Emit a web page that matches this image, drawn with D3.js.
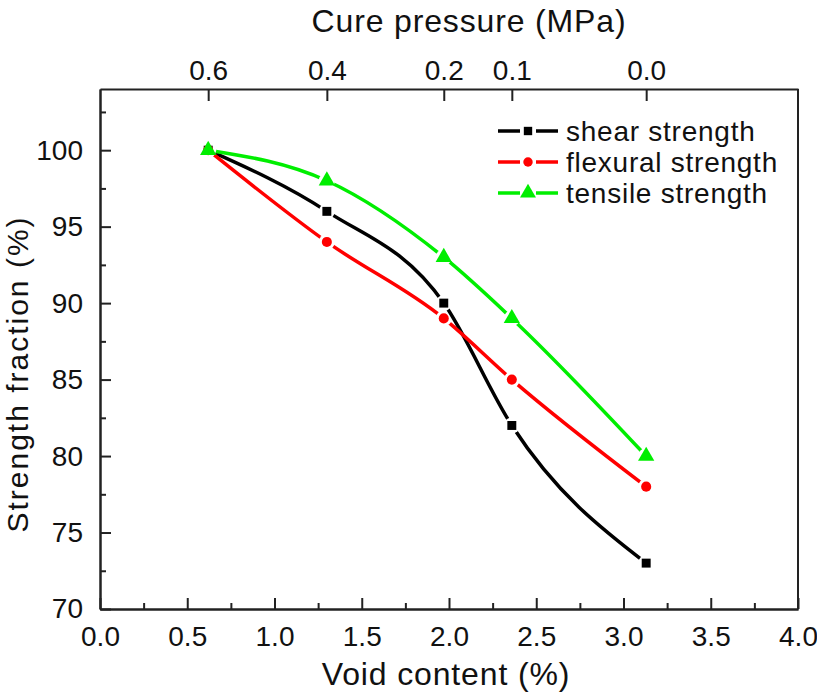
<!DOCTYPE html>
<html>
<head>
  <meta charset="utf-8">
  <title>Strength fraction vs void content</title>
  <style>
    body { margin: 0; background: white; }
    svg { display: block; font-family: "Liberation Sans", Arial, sans-serif; }
    .axis path, .axis line { stroke: #222; stroke-width: 2px; }
    .axis text { font-size: 28px; fill: #111; }
    .title { font-size: 32px; fill: #111; letter-spacing: 0.85px; }
    .legend text { font-size: 28px; fill: #111; letter-spacing: 0.75px; }
  </style>
</head>
<body>
  <div id="chart"></div>

  <script src="https://d3js.org/d3.v7.min.js"></script>
  <script>
    // data
    const voidContent = [0.62, 1.30, 1.97, 2.36, 3.13];
    const pressureLabels = ["0.6", "0.4", "0.2", "0.1", "0.0"];
    const shearStrength = [100, 96, 90, 82, 73];
    const flexuralStrength = [100, 94, 89, 85, 78];
    const tensileStrength = [100, 98, 93, 89, 80];

    const seriesNames = ["shear strength", "flexural strength", "tensile strength"];
    const seriesColors = ["#000000", "#ff0000", "#00ee00"];
    const seriesSymbols = [d3.symbolSquare, d3.symbolCircle, d3.symbolTriangle];
    const seriesValues = [shearStrength, flexuralStrength, tensileStrength];

    const width = 817, height = 696;
    const plotLeft = 100, plotRight = 798, plotTop = 89, plotBottom = 609;

    const svg = d3.select("#chart")
      .append("svg")
      .attr("width", width)
      .attr("height", height);

    const xScale = d3.scaleLinear().domain([0, 4]).range([plotLeft, plotRight]);
    const yScale = d3.scaleLinear().domain([70, 104]).range([plotBottom, plotTop]);

    // bottom axis, ticks pointing inward
    svg.append("g")
      .attr("class", "axis")
      .attr("transform", "translate(0," + plotBottom + ")")
      .call(d3.axisBottom(xScale).tickValues(d3.range(0, 4.01, 0.5))
        .tickFormat(d3.format(".1f")).tickSize(-11).tickSizeOuter(0).tickPadding(17));
    svg.append("g")
      .attr("class", "axis")
      .attr("transform", "translate(0," + plotBottom + ")")
      .call(d3.axisBottom(xScale).tickValues(d3.range(0.25, 4, 0.5))
        .tickFormat("").tickSize(-6).tickSizeOuter(0));

    // left axis
    svg.append("g")
      .attr("class", "axis")
      .attr("transform", "translate(" + plotLeft + ",0)")
      .call(d3.axisLeft(yScale).tickValues(d3.range(70, 101, 5))
        .tickSize(-11).tickSizeOuter(0).tickPadding(17));
    svg.append("g")
      .attr("class", "axis")
      .attr("transform", "translate(" + plotLeft + ",0)")
      .call(d3.axisLeft(yScale).tickValues(d3.range(72.5, 104, 5))
        .tickFormat("").tickSize(-6).tickSizeOuter(0));

    // top axis: cure pressure at the measured void contents
    svg.append("g")
      .attr("class", "axis")
      .attr("transform", "translate(0," + plotTop + ")")
      .call(d3.axisTop(xScale).tickValues(voidContent)
        .tickFormat((d, i) => pressureLabels[i]).tickSize(-12).tickSizeOuter(0).tickPadding(9));

    // right border
    svg.append("line")
      .attr("x1", plotRight).attr("x2", plotRight)
      .attr("y1", plotTop).attr("y2", plotBottom)
      .attr("stroke", "#222").attr("stroke-width", 2);

    // titles
    svg.append("text").attr("class", "title")
      .attr("x", 446).attr("y", 685).attr("text-anchor", "middle")
      .text("Void content (%)");
    svg.append("text").attr("class", "title")
      .attr("x", 469).attr("y", 32).attr("text-anchor", "middle")
      .text("Cure pressure (MPa)");
    svg.append("text").attr("class", "title")
      .attr("transform", "translate(28,374) rotate(-90)")
      .attr("text-anchor", "middle")
      .style("font-size", "30px")
      .style("letter-spacing", "2px")
      .text("Strength fraction (%)");

    const line = d3.line()
      .x(d => xScale(d.x))
      .y(d => yScale(d.y))
      .curve(d3.curveMonotoneX);

    const defs = svg.append("defs");
    const gapRadius = 8;

    seriesValues.forEach((values, s) => {
      const points = values.map((v, i) => ({ x: voidContent[i], y: v }));

      // mask so the line breaks around its own markers
      const mask = defs.append("mask").attr("id", "gap-" + s)
        .attr("maskUnits", "userSpaceOnUse")
        .attr("x", 0).attr("y", 0).attr("width", width).attr("height", height);
      mask.append("rect").attr("width", width).attr("height", height).attr("fill", "white");
      mask.selectAll("circle")
        .data(points)
        .enter()
        .append("circle")
        .attr("cx", d => xScale(d.x))
        .attr("cy", d => yScale(d.y))
        .attr("r", gapRadius)
        .attr("fill", "black");

      svg.append("path")
        .datum(points)
        .attr("d", line)
        .attr("fill", "none")
        .attr("stroke", seriesColors[s])
        .attr("stroke-width", 3.5)
        .attr("mask", "url(#gap-" + s + ")");

      svg.append("g").selectAll("path")
        .data(points)
        .enter()
        .append("path")
        .attr("transform", d => "translate(" + xScale(d.x) + "," + yScale(d.y) + ")")
        .attr("d", d3.symbol().type(seriesSymbols[s]).size(s === 2 ? 115 : 80))
        .attr("fill", seriesColors[s]);
    });

    // legend
    const legend = svg.append("g").attr("class", "legend");
    const legendY = [131, 162, 193];
    seriesNames.forEach((name, s) => {
      const g = legend.append("g").attr("transform", "translate(528," + legendY[s] + ")");
      g.append("line").attr("x1", -30).attr("x2", -8)
        .attr("stroke", seriesColors[s]).attr("stroke-width", 3.5);
      g.append("line").attr("x1", 8).attr("x2", 30)
        .attr("stroke", seriesColors[s]).attr("stroke-width", 3.5);
      g.append("path")
        .attr("d", d3.symbol().type(seriesSymbols[s]).size(s === 2 ? 110 : 70))
        .attr("fill", seriesColors[s]);
      g.append("text")
        .attr("x", 38).attr("dy", "0.35em")
        .text(name);
    });
  </script>
</body>
</html>
